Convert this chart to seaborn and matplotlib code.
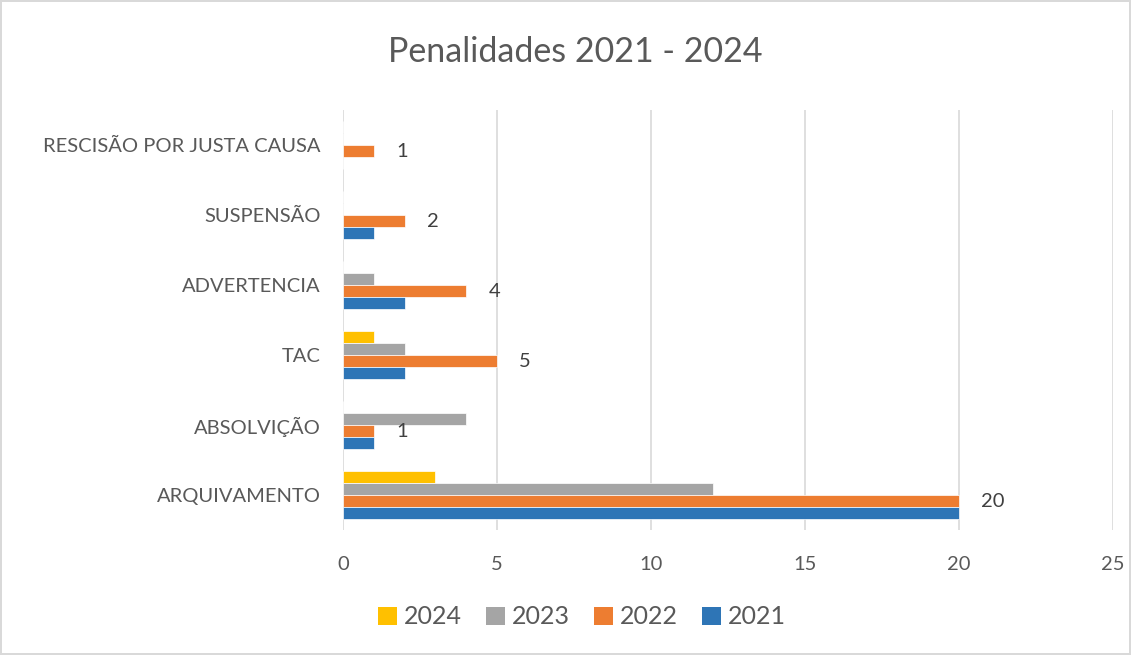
import matplotlib
matplotlib.use("Agg")
import matplotlib.pyplot as plt
import seaborn as sns
import pandas as pd
from matplotlib.patches import Patch

categories = ["RESCISÃO POR JUSTA CAUSA", "SUSPENSÃO", "ADVERTENCIA", "TAC", "ABSOLVIÇÃO", "ARQUIVAMENTO"]
years = ["2024", "2023", "2022", "2021"]
v2021 = [0, 1, 2, 2, 1, 20]
v2022 = [1, 2, 4, 5, 1, 20]
v2023 = [0, 0, 1, 2, 4, 12]
v2024 = [0, 0, 0, 1, 0, 3]
colors = {"2024": "#FFC000", "2023": "#A5A5A5", "2022": "#ED7D31", "2021": "#2E75B6"}
xticks = [0, 5, 10, 15, 20, 25]

series = {"2021": v2021, "2022": v2022, "2023": v2023, "2024": v2024}
rows = []
for y in years:
    for c, v in zip(categories, series[y]):
        rows.append({"cat": c, "ano": y, "val": v})
df = pd.DataFrame(rows)

sns.set_theme(style="white")
plt.rcParams["font.family"] = ["Lato", "DejaVu Sans"]

fig = plt.figure(figsize=(11.31, 6.55), dpi=100)
fig.patch.set_facecolor("white")
fig.patch.set_edgecolor("#D9D9D9")
fig.patch.set_linewidth(1.5)
ax = fig.add_axes([343/1131, 1-530/655, (1113-343)/1131, 420/655])

sns.barplot(data=df, y="cat", x="val", hue="ano", order=categories, hue_order=years,
            palette=colors, orient="h", width=0.69, ax=ax, legend=False,
            saturation=1, edgecolor="white", linewidth=0.5)

ax.set_xlim(0, 25)
ax.set_xticks(xticks)
ax.set_xticklabels([str(t) for t in xticks])
ax.grid(axis="x", color="#D9D9D9", linewidth=1.2)
ax.set_axisbelow(True)
for s in ax.spines.values():
    s.set_visible(False)
ax.set_xlabel("")
ax.set_ylabel("")
ax.tick_params(axis="y", length=0, pad=16, labelsize=14.5, labelcolor="#595959")
ax.tick_params(axis="x", length=0, pad=19, labelsize=14.5, labelcolor="#595959")

# data labels on 2022 series
idx = years.index("2022")
cont = ax.containers[idx]
ax.bar_label(cont, labels=[str(v) for v in v2022], padding=16, fontsize=14.5, color="#404040")

fig.text(575/1131, 1-52/655, "Penalidades 2021 - 2024", ha="center", va="center",
         fontsize=24.5, color="#595959")

handles = [Patch(facecolor=colors[y], edgecolor="none") for y in years]
fig.legend(handles, years, loc="center", bbox_to_anchor=(582/1131, 1-617/655), ncol=4,
           frameon=False, fontsize=18, labelcolor="#595959", handlelength=0.75,
           handleheight=0.75, handletextpad=0.3, columnspacing=0.95)

fig.savefig("out.png", dpi=100)
